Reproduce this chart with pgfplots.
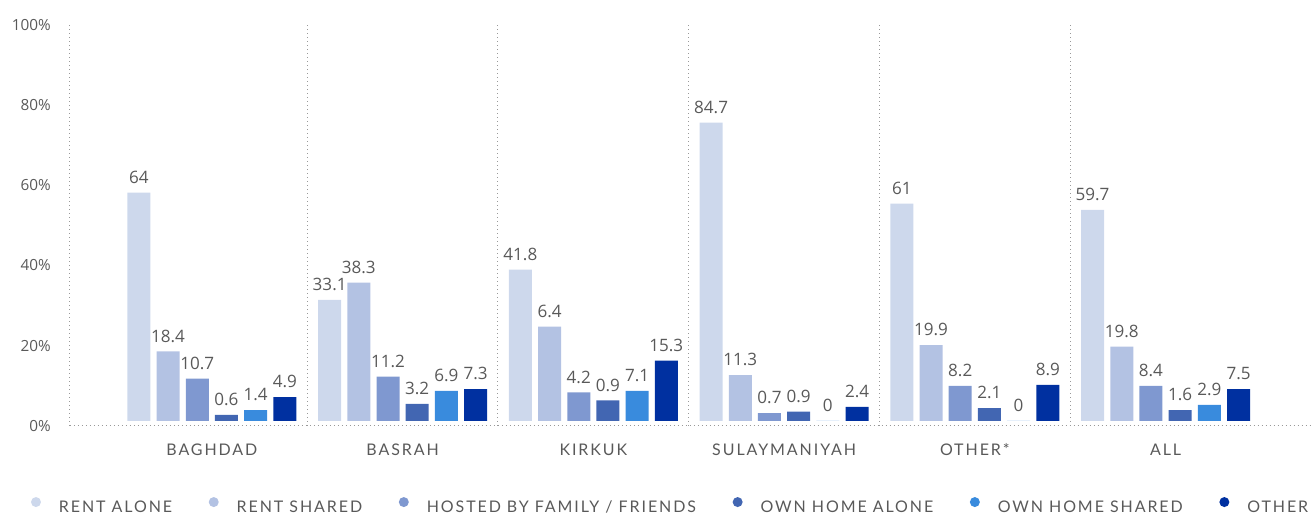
\documentclass[border=0pt]{standalone}
\usepackage{pgfplots}
\pgfplotsset{compat=1.18}
\usepackage{fontspec}
\setmainfont{Open Sans}
\newfontfamily\catfont[LetterSpace=12]{Lato}
\definecolor{cA}{RGB}{205,216,236}
\definecolor{cB}{RGB}{179,194,227}
\definecolor{cC}{RGB}{127,152,208}
\definecolor{cD}{RGB}{66,102,178}
\definecolor{cE}{RGB}{57,139,221}
\definecolor{cF}{RGB}{0,48,160}
\definecolor{txt}{RGB}{89,89,89}
\pgfplotsset{circleleg/.style={legend image code/.code={\fill[##1,draw=none] (0pt,4.2pt) circle (3.75pt);}}}
\begin{document}
\begin{tikzpicture}
\path (-52.5pt,-65.25pt) rectangle (930.75pt,319.5pt);
\begin{axis}[
  at={(0pt,0pt)}, anchor=south west,
  x=143.1pt, y=3.0075pt,
  xmin=-0.744, xmax=5.760, ymin=-1.25, ymax=98.75,
  clip=false,
  ybar=4.65pt, bar width=17.25pt,
  axis x line=bottom, axis y line=left,
  axis line style={draw=gray!80, line width=0.75pt, dash pattern=on 0.75pt off 2.25pt, -},
  major tick length=0pt,
  xtick={0,...,5},
  xticklabels={BAGHDAD,BASRAH,KIRKUK,SULAYMANIYAH,OTHER*,ALL},
  xticklabel style={font=\catfont\fontsize{12}{14}\selectfont, text=txt, anchor=base, yshift=-22.5pt, inner sep=0pt},
  extra x ticks={0.5,1.5,2.5,3.5,4.5},
  extra x tick labels={},
  extra x tick style={grid=major, major grid style={draw=gray!80, line width=0.75pt, dash pattern=on 0.75pt off 2.25pt}},
  ytick={-1.25,18.75,38.75,58.75,78.75,98.75},
  yticklabels={0\%,20\%,40\%,60\%,80\%,100\%},
  yticklabel style={font=\fontsize{11.5}{13}\selectfont, text=txt, anchor=east, inner sep=0pt, xshift=-14.25pt},
  point meta=explicit symbolic,
  nodes near coords,
  every node near coord/.append style={font=\fontsize{12.8}{14}\selectfont, text=txt, anchor=base, inner sep=0pt, yshift=7pt},
  legend columns=6,
  legend style={at={(-0.031426,-0.19950)}, anchor=west, draw=none, fill=none, inner sep=0pt, outer sep=0pt,
    font=\catfont\fontsize{12}{14}\selectfont, text=txt,
    nodes={inner sep=0pt},
    /tikz/every odd column/.append style={column sep=13.5pt},
    /tikz/every even column/.append style={column sep=27.5pt}},
]
\addplot[fill=cA, draw=none, circleleg] coordinates {(0,56.9)[64] (1,30.2)[33.1] (2,37.7)[41.8] (3,74.4)[84.7] (4,54.2)[61] (5,52.6)[59.7]};
\addplot[fill=cB, draw=none, circleleg] coordinates {(0,17.3)[18.4] (1,34.5)[38.3] (2,23.5)[6.4] (3,11.4)[11.3] (4,18.9)[19.9] (5,18.5)[19.8]};
\addplot[fill=cC, draw=none, circleleg] coordinates {(0,10.5)[10.7] (1,11.0)[11.2] (2,7.1)[4.2] (3,1.9)[0.7] (4,8.7)[8.2] (5,8.7)[8.4]};
\addplot[fill=cD, draw=none, circleleg] coordinates {(0,1.5)[0.6] (1,4.2)[3.2] (2,5.1)[0.9] (3,2.3)[0.9] (4,3.2)[2.1] (5,2.7)[1.6]};
\addplot[fill=cE, draw=none, circleleg] coordinates {(0,2.7)[1.4] (1,7.5)[6.9] (2,7.5)[7.1] (3,0)[0] (4,0)[0] (5,4.0)[2.9]};
\addplot[fill=cF, draw=none, circleleg] coordinates {(0,5.9)[4.9] (1,7.9)[7.3] (2,15.0)[15.3] (3,3.5)[2.4] (4,9.0)[8.9] (5,7.9)[7.5]};
\legend{RENT ALONE, RENT SHARED, HOSTED BY FAMILY / FRIENDS, OWN HOME ALONE, OWN HOME SHARED, OTHER}
\end{axis}
\end{tikzpicture}
\end{document}
